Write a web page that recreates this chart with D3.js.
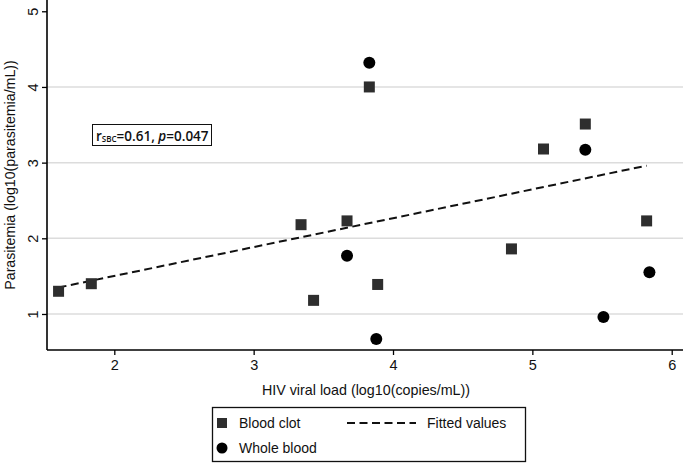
<!DOCTYPE html>
<html>
<head>
<meta charset="utf-8">
<script src="https://cdn.jsdelivr.net/npm/d3@7"></script>
<style>
  body { margin: 0; background: #fff; }
  svg { display: block; font-family: "Liberation Sans", Arial, sans-serif; }
</style>
</head>
<body>
<div id="container"></div>
<script>
/* DATA */
const clotX = [1.60, 1.835, 3.34, 3.67, 3.83, 3.43, 3.89, 4.85, 5.08, 5.38, 5.82];
const clotY = [1.30, 1.40, 2.18, 2.23, 4.00, 1.18, 1.39, 1.86, 3.18, 3.51, 2.23];
const wholeX = [3.83, 3.67, 3.88, 5.38, 5.51, 5.84];
const wholeY = [4.32, 1.77, 0.67, 3.17, 0.96, 1.55];
const fitX = [1.60, 5.82];
const fitY = [1.35, 2.96];
const xTicks = [2, 3, 4, 5, 6];
const yTicks = [1, 2, 3, 4, 5];
const gridTicks = [1, 2, 3, 4];

/* CONSTANTS */
const width = 685, height = 464;
const plot = { left: 47, right: 683, top: 0, bottom: 350 };

const xScale = d3.scaleLinear().domain([1.517, 6.081]).range([plot.left, plot.right]);
const yScale = d3.scaleLinear().domain([0.524, 5.149]).range([plot.bottom, plot.top]);

const svg = d3.select("#container").append("svg")
  .attr("width", width)
  .attr("height", height);

// gridlines
svg.append("g").selectAll("line")
  .data(gridTicks)
  .join("line")
  .attr("x1", plot.left).attr("x2", plot.right)
  .attr("y1", d => yScale(d)).attr("y2", d => yScale(d))
  .attr("stroke", "#dcdcdc")
  .attr("stroke-width", 1.5);

// + AXES
const xAxis = d3.axisBottom(xScale).tickValues(xTicks).tickSize(5).tickPadding(5).tickFormat(d3.format("d"));
const yAxis = d3.axisLeft(yScale).tickValues(yTicks).tickSize(5).tickPadding(4).tickFormat(d3.format("d"));

const xAxisGroup = svg.append("g")
  .attr("transform", `translate(0, ${plot.bottom})`)
  .call(xAxis);
xAxisGroup.select(".domain").attr("d", `M${plot.left},0H${plot.right}`).attr("stroke-width", 1.6);
xAxisGroup.selectAll(".tick line").attr("stroke-width", 1.3);
xAxisGroup.selectAll(".tick text").attr("font-size", 14.5).attr("fill", "#111")
  .attr("font-family", "Liberation Sans, Arial, sans-serif");

const yAxisGroup = svg.append("g")
  .attr("transform", `translate(${plot.left}, 0)`)
  .call(yAxis);
yAxisGroup.select(".domain").attr("d", `M0,${plot.bottom}V${plot.top}`).attr("stroke-width", 1.6);
yAxisGroup.selectAll(".tick line").attr("stroke-width", 1.3);
yAxisGroup.selectAll(".tick text")
  .attr("font-size", 14.5).attr("fill", "#111")
  .attr("font-family", "Liberation Sans, Arial, sans-serif")
  .attr("x", null).attr("dy", null)
  .attr("text-anchor", "middle")
  .attr("transform", "translate(-14,0) rotate(-90)")
  .attr("dominant-baseline", "central");

// axis titles
svg.append("text")
  .attr("x", 366).attr("y", 395)
  .attr("text-anchor", "middle")
  .attr("font-size", 14.3).attr("fill", "#111")
  .text("HIV viral load (log10(copies/mL))");

svg.append("text")
  .attr("transform", `translate(15, 175) rotate(-90)`)
  .attr("text-anchor", "middle")
  .attr("font-size", 14.2).attr("fill", "#111")
  .text("Parasitemia (log10(parasitemia/mL))");

// fitted line
const clot = clotX.map((x, i) => ({ x, y: clotY[i] }));
const whole = wholeX.map((x, i) => ({ x, y: wholeY[i] }));
const fit = fitX.map((x, i) => ({ x, y: fitY[i] }));

const lineGen = d3.line().x(d => xScale(d.x)).y(d => yScale(d.y));
svg.append("path")
  .datum(fit)
  .attr("d", lineGen)
  .attr("fill", "none")
  .attr("stroke", "#111")
  .attr("stroke-width", 2)
  .attr("stroke-dasharray", "8,4.5");

// + POINTS
const sq = 11;
svg.append("g").selectAll("rect")
  .data(clot)
  .join("rect")
  .attr("x", d => xScale(d.x) - sq / 2)
  .attr("y", d => yScale(d.y) - sq / 2)
  .attr("width", sq).attr("height", sq)
  .attr("fill", "#2e2e2e");

svg.append("g").selectAll("circle")
  .data(whole)
  .join("circle")
  .attr("cx", d => xScale(d.x))
  .attr("cy", d => yScale(d.y))
  .attr("r", 6)
  .attr("fill", "#000");

// annotation box
svg.append("rect")
  .attr("x", 92.5).attr("y", 124.5).attr("width", 119).attr("height", 21)
  .attr("fill", "#fff").attr("stroke", "#111").attr("stroke-width", 1);
const ann = svg.append("text")
  .attr("x", 96).attr("y", 140.5)
  .attr("font-size", 13.5).attr("fill", "#111")
  .attr("font-weight", 600)
  .attr("font-family", "Open Sans, Liberation Sans, sans-serif");
ann.append("tspan").text("r");
ann.append("tspan").attr("font-size", 8).attr("dy", 1).text("SBC");
ann.append("tspan").attr("dy", -1).text("=0.61, ");
ann.append("tspan").attr("font-style", "italic").text("p");
ann.append("tspan").text("=0.047");

// legend
const legend = svg.append("g");
legend.append("rect")
  .attr("x", 212.5).attr("y", 407.5).attr("width", 313).attr("height", 54)
  .attr("fill", "#fff").attr("stroke", "#111").attr("stroke-width", 1.3);
legend.append("rect")
  .attr("x", 217).attr("y", 418).attr("width", 10).attr("height", 10)
  .attr("fill", "#2e2e2e");
legend.append("circle")
  .attr("cx", 222).attr("cy", 448).attr("r", 5.5)
  .attr("fill", "#000");
legend.append("line")
  .attr("x1", 347).attr("x2", 416).attr("y1", 423).attr("y2", 423)
  .attr("stroke", "#111").attr("stroke-width", 2).attr("stroke-dasharray", "8,4.5");
legend.append("text").attr("x", 239).attr("y", 428).attr("font-size", 14).attr("fill", "#111").text("Blood clot");
legend.append("text").attr("x", 239).attr("y", 453).attr("font-size", 14).attr("fill", "#111").text("Whole blood");
legend.append("text").attr("x", 427).attr("y", 428).attr("font-size", 14).attr("fill", "#111").text("Fitted values");
</script>
</body>
</html>
